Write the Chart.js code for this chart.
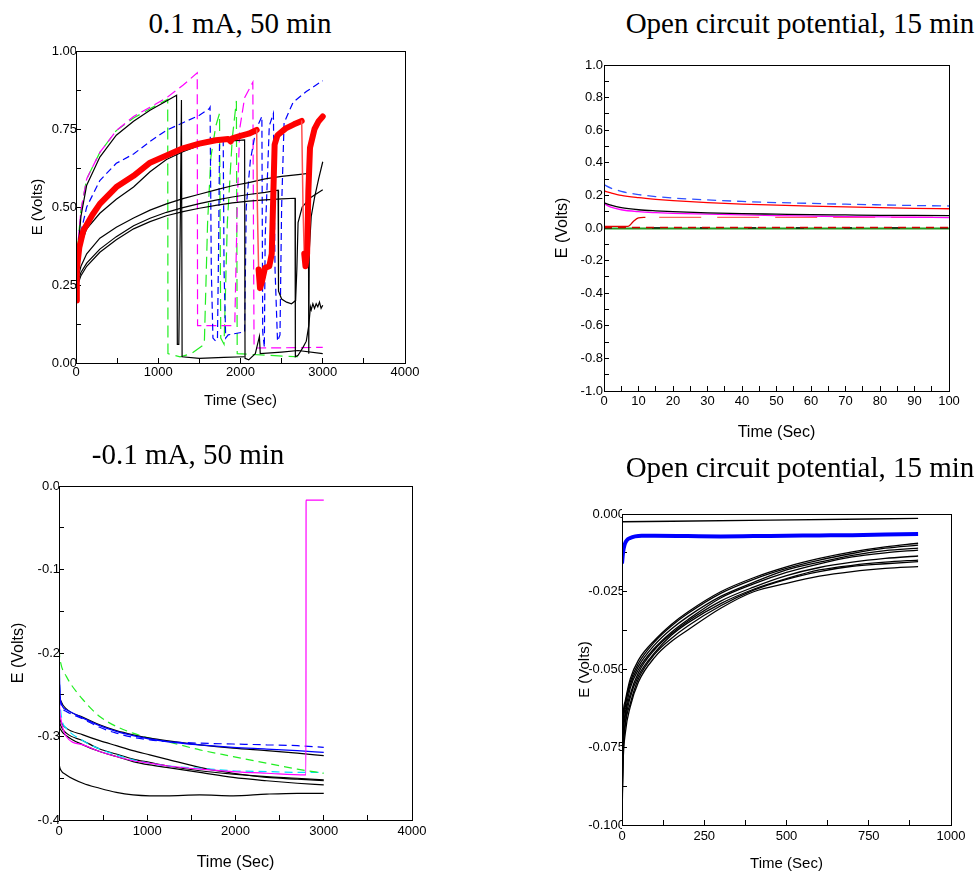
<!DOCTYPE html>
<html>
<head>
<meta charset="utf-8">
<script src="https://cdn.jsdelivr.net/npm/chart.js@4.4.1/dist/chart.umd.min.js"></script>
<style>
  html, body { margin: 0; padding: 0; background: #fff; }
  #page { position: relative; width: 979px; height: 873px; overflow: hidden; }
  canvas { position: absolute; }
  .ttl { position: absolute; font-family: 'Liberation Serif', 'Times New Roman', serif; font-size: 29px;
         line-height: 1; white-space: nowrap; transform: translateX(-50%); color: #000; }
</style>
</head>
<body>
<div id="page">
  <canvas id="c1" width="430" height="380" style="left:0;top:40px"></canvas>
  <canvas id="c2" width="459" height="410" style="left:520px;top:40px"></canvas>
  <canvas id="c3" width="440" height="433" style="left:0;top:440px"></canvas>
  <canvas id="c4" width="439" height="403" style="left:540px;top:470px"></canvas>
  <div class="ttl" style="left:240px;top:9px">0.1 mA, 50 min</div>
  <div class="ttl" style="left:800px;top:9px">Open circuit potential, 15 min</div>
  <div class="ttl" style="left:188px;top:440px">-0.1 mA, 50 min</div>
  <div class="ttl" style="left:800px;top:453px">Open circuit potential, 15 min</div>
</div>
<script>
// ---- panel 1: 0.1 mA, 50 min (time in s, E in V) ----
const p1RedT = [0,10,40,90,200,290,490,700,900,1100,1300,1500,1700,1850,1880,1900,2000,2100,2197,2205,2220,2237,2260,2298,2350,2380,2400,2415,2450,2550,2650,2744,2760,2775,2790,2810,2825,2845,2900,2950,3000];
const p1RedE = [0.2,0.3,0.37,0.425,0.475,0.51,0.564,0.60,0.642,0.665,0.688,0.703,0.714,0.718,0.71,0.72,0.728,0.735,0.747,0.5,0.3,0.24,0.26,0.305,0.31,0.35,0.55,0.70,0.73,0.752,0.765,0.776,0.5,0.35,0.31,0.35,0.55,0.69,0.75,0.775,0.79];
const p1K1T = [0,20,60,130,290,490,700,900,1100,1223,1232,1250,1270,1282,1290,1500,1800,2050];
const p1K1E = [0.22,0.35,0.47,0.57,0.66,0.73,0.775,0.81,0.84,0.858,0.06,0.06,0.5,0.843,0.02,0.015,0.018,0.02];
const p1K2T = [0,20,60,130,290,490,700,900,1100,1300,1500,1700,1900,2050,2055,2100,2180,2230,2240,2500,2700,3000];
const p1K2E = [0.24,0.31,0.38,0.43,0.48,0.525,0.564,0.613,0.652,0.677,0.697,0.71,0.712,0.715,0.015,0.01,0.03,0.085,0.03,0.035,0.04,0.03];
const p1K3T = [0,20,60,130,290,490,700,900,1100,1300,1500,1700,1900,2100,2300,2500,2700,2825,2830,2836,2860,2900,2950,3000];
const p1K3E = [0.23,0.27,0.31,0.35,0.40,0.435,0.465,0.49,0.51,0.527,0.541,0.555,0.568,0.578,0.59,0.598,0.604,0.608,0.03,0.36,0.47,0.53,0.59,0.645];
const p1K4T = [0,20,60,130,290,490,700,900,1100,1300,1500,1700,1900,2100,2300,2457,2462,2500,2560,2620,2670,2685,2700,2750,2850,3000];
const p1K4E = [0.22,0.26,0.29,0.32,0.365,0.405,0.44,0.464,0.483,0.498,0.511,0.522,0.532,0.54,0.547,0.554,0.23,0.205,0.195,0.19,0.2,0.3,0.45,0.5,0.53,0.555];
const p1K5T = [0,20,60,130,290,490,700,900,1100,1300,1500,1700,1900,2100,2300,2500,2663,2667,2700,2760,2800,2830,2850,2860,2880,2900,2920,2940,2960,2980,3000];
const p1K5E = [0.21,0.25,0.28,0.31,0.355,0.395,0.43,0.453,0.472,0.485,0.496,0.505,0.513,0.519,0.523,0.526,0.528,0.02,0.025,0.05,0.07,0.12,0.18,0.17,0.19,0.175,0.19,0.18,0.195,0.175,0.185];
const p1GreenT = [0,20,60,130,290,490,700,900,1115,1118,1265,1400,1560,1600,1640,1700,1745,1760,1800,1840,1900,1950,1960,2300,2700];
const p1GreenE = [0.25,0.37,0.49,0.59,0.675,0.745,0.785,0.815,0.845,0.03,0.02,0.03,0.06,0.45,0.66,0.76,0.8,0.08,0.06,0.45,0.72,0.84,0.03,0.025,0.02];
const p1MagT = [0,20,60,130,290,490,700,900,1100,1300,1474,1478,1600,1900,1931,1960,1990,2050,2150,2160,2165,2200,3000];
const p1MagE = [0.25,0.37,0.49,0.59,0.675,0.745,0.79,0.82,0.85,0.89,0.93,0.12,0.12,0.12,0.13,0.5,0.75,0.85,0.9,0.3,0.05,0.048,0.05];
const p1BlueT = [0,20,60,130,290,490,700,900,1100,1300,1500,1620,1630,1645,1665,1700,1720,1735,1745,1790,1800,1820,1850,2050,2070,2120,2190,2260,2270,2290,2300,2350,2400,2420,2450,2480,2500,2530,2640,2800,3000];
const p1BlueE = [0.24,0.33,0.42,0.5,0.585,0.64,0.67,0.71,0.746,0.77,0.794,0.815,0.82,0.30,0.08,0.07,0.08,0.4,0.71,0.71,0.3,0.08,0.09,0.1,0.5,0.65,0.75,0.79,0.1,0.05,0.4,0.76,0.8,0.3,0.07,0.09,0.5,0.77,0.836,0.87,0.905];

// ---- panel 2: open circuit potential, first 100 s ----
const p2T = [0,2,5,10,15,20,30,40,50,60,70,80,90,100];
const p2Blue = [0.266,0.245,0.225,0.205,0.193,0.184,0.172,0.163,0.156,0.151,0.146,0.142,0.138,0.135];
const p2Red = [0.227,0.215,0.2,0.186,0.176,0.168,0.156,0.147,0.14,0.134,0.129,0.125,0.121,0.118];
const p2Black = [0.154,0.14,0.125,0.112,0.105,0.1,0.093,0.088,0.085,0.082,0.08,0.078,0.077,0.076];
const p2Mag = [0.15,0.128,0.112,0.1,0.094,0.09,0.085,0.08,0.076,0.073,0.07,0.068,0.066,0.064];
const p2StepT = [0,7,8.5,10,12];
const p2StepE = [0.01,0.01,0.04,0.062,0.065];
const p2DashT = [16,100];
const p2DashE = [0.065,0.065];
const p2ZeroT = [0,100];
const p2GreenE = [-0.003,-0.003];
const p2RedZeroE = [0.003,0.003];
const p2BlackZeroE = [0.001,0.001];

// ---- panel 3: -0.1 mA, 50 min ----
const p3T = [0,5,20,83,272,461,650,839,1028,1217,1595,1973,2352,2700,3000];
const p3Blue = [-0.15,-0.225,-0.258,-0.268,-0.278,-0.287,-0.294,-0.299,-0.303,-0.306,-0.310,-0.313,-0.315,-0.317,-0.319];
const p3BlueDash = [-0.16,-0.23,-0.26,-0.27,-0.279,-0.289,-0.296,-0.301,-0.304,-0.306,-0.308,-0.309,-0.310,-0.311,-0.313];
const p3K1 = [-0.17,-0.24,-0.257,-0.267,-0.277,-0.286,-0.293,-0.298,-0.302,-0.305,-0.310,-0.314,-0.317,-0.320,-0.323];
const p3Green = [-0.18,-0.2,-0.212,-0.228,-0.256,-0.276,-0.288,-0.296,-0.302,-0.306,-0.316,-0.324,-0.332,-0.339,-0.344];
const p3Cyan = [-0.19,-0.235,-0.27,-0.29,-0.305,-0.315,-0.322,-0.328,-0.332,-0.335,-0.338,-0.341,-0.342,-0.343,-0.343];
const p3K2 = [-0.265,-0.275,-0.282,-0.29,-0.298,-0.305,-0.311,-0.317,-0.322,-0.327,-0.337,-0.344,-0.349,-0.351,-0.353];
const p3K3 = [-0.27,-0.28,-0.287,-0.296,-0.305,-0.315,-0.321,-0.327,-0.331,-0.335,-0.341,-0.345,-0.348,-0.350,-0.352];
const p3K4 = [-0.28,-0.287,-0.292,-0.299,-0.31,-0.318,-0.324,-0.33,-0.334,-0.337,-0.343,-0.349,-0.353,-0.356,-0.358];
const p3K5 = [-0.33,-0.335,-0.34,-0.346,-0.356,-0.362,-0.367,-0.37,-0.371,-0.371,-0.37,-0.371,-0.369,-0.368,-0.368];
const p3MagT = [0,5,20,83,272,461,650,839,1028,1217,1595,1973,2352,2798,2800,3000];
const p3MagE = [-0.2,-0.255,-0.278,-0.3,-0.31,-0.318,-0.324,-0.329,-0.332,-0.335,-0.339,-0.342,-0.344,-0.346,-0.0168,-0.0168];

// ---- panel 4: open circuit potential, 15 min ----
const p4T = [0,3,10,25,50,100,150,200,300,400,500,600,700,800,900];
const p4Curves = [
  [-0.082,-0.066,-0.060,-0.053,-0.047,-0.0405,-0.0355,-0.0315,-0.025,-0.0205,-0.017,-0.0143,-0.0122,-0.0106,-0.0094],
  [-0.088,-0.068,-0.061,-0.054,-0.048,-0.041,-0.036,-0.032,-0.0255,-0.021,-0.0175,-0.0148,-0.0127,-0.0110,-0.0100],
  [-0.085,-0.070,-0.062,-0.055,-0.049,-0.042,-0.037,-0.033,-0.0265,-0.022,-0.018,-0.0155,-0.0133,-0.0118,-0.0110],
  [-0.090,-0.072,-0.064,-0.056,-0.050,-0.043,-0.038,-0.034,-0.027,-0.0225,-0.0188,-0.016,-0.0138,-0.0125,-0.0116],
  [-0.093,-0.074,-0.065,-0.058,-0.051,-0.0435,-0.0385,-0.0345,-0.028,-0.0235,-0.0198,-0.0172,-0.0155,-0.0143,-0.0135],
  [-0.095,-0.077,-0.067,-0.059,-0.052,-0.0445,-0.039,-0.035,-0.0288,-0.0242,-0.0208,-0.018,-0.0165,-0.0155,-0.0148],
  [-0.097,-0.079,-0.068,-0.061,-0.053,-0.045,-0.040,-0.036,-0.0295,-0.0245,-0.021,-0.0185,-0.0168,-0.0160,-0.0153],
  [-0.099,-0.081,-0.0705,-0.062,-0.054,-0.046,-0.041,-0.0373,-0.0303,-0.025,-0.0223,-0.020,-0.0185,-0.0175,-0.0169]
];
const p4TopT = [0,450,900];
const p4TopE = [-0.0025,-0.002,-0.0014];
const p4BlueT = [0,3,8,15,25,40,60,100,200,300,400,500,600,700,800,900];
const p4BlueE = [-0.0159,-0.0125,-0.0098,-0.0084,-0.0077,-0.0072,-0.0070,-0.0070,-0.0071,-0.0072,-0.0071,-0.0070,-0.0069,-0.0068,-0.0066,-0.0064];

const SANS = "'Liberation Sans', Arial, sans-serif";

function line(t, e, color, width, dash, extra) {
  return Object.assign({
    data: t.map((x, i) => ({ x: x, y: e[i] })),
    borderColor: color,
    borderWidth: width,
    borderDash: dash || [],
    pointRadius: 0,
    fill: false
  }, extra || {});
}

// closed box round the plot area
const frame = {
  id: 'frame',
  afterDatasetsDraw(chart) {
    const { ctx, chartArea: a } = chart;
    ctx.save();
    ctx.strokeStyle = '#000';
    ctx.lineWidth = 1;
    ctx.strokeRect(Math.round(a.left) + 0.5, Math.round(a.top) + 0.5, Math.round(a.right - a.left), Math.round(a.bottom - a.top));
    ctx.restore();
  }
};

function majorLabel(major, dec) {
  return v => {
    const r = v / major;
    return Math.abs(r - Math.round(r)) < 1e-6 ? (Math.round(r) * major).toFixed(dec) : '';
  };
}

function panel(id, o) {
  return new Chart(document.getElementById(id), {
    type: 'line',
    data: { datasets: o.datasets },
    plugins: [frame],
    options: {
      responsive: false,
      animation: false,
      layout: { padding: { top: o.pad[0], right: o.pad[1], left: 0, bottom: 0 } },
      plugins: { legend: { display: false }, tooltip: { enabled: false } },
      elements: { line: { tension: 0, cubicInterpolationMode: o.smooth ? 'monotone' : 'default' } },
      scales: {
        x: {
          type: 'linear', min: o.x[0], max: o.x[1],
          grid: { drawOnChartArea: false, tickLength: -5, color: '#000' },
          border: { display: false },
          ticks: { stepSize: o.x[2], autoSkip: false, maxRotation: 0, padding: o.tickPad[0], color: '#000',
                   font: { family: SANS, size: 13 }, callback: majorLabel(o.x[3], 0) },
          title: { display: true, text: 'Time (Sec)', color: '#000', font: { family: SANS, size: o.titleSize },
                   padding: { top: 0, bottom: o.titlePad[0] } },
          afterFit: s => { s.height = o.xh; s.paddingLeft = 0; s.paddingRight = 0; }
        },
        y: {
          type: 'linear', min: o.y[0], max: o.y[1],
          grid: { drawOnChartArea: false, tickLength: -5, color: '#000' },
          border: { display: false },
          ticks: { stepSize: o.y[2], autoSkip: false, padding: o.tickPad[1], color: '#000',
                   font: { family: SANS, size: 13 }, callback: majorLabel(o.y[3], o.y[4]) },
          title: { display: true, text: 'E (Volts)', color: '#000', font: { family: SANS, size: o.titleSize },
                   padding: { top: o.titlePad[1], bottom: 0 } },
          afterFit: s => { s.width = o.yw; s.paddingTop = 0; s.paddingBottom = 0; }
        }
      }
    }
  });
}

// red trace: drops are drawn as a thin line, the sampled parts as a fat band
const redSeg = {
  borderWidth: c => (c.p1.parsed.y - c.p0.parsed.y < -0.1 ? 1.5 : 6),
  borderColor: c => (c.p1.parsed.y - c.p0.parsed.y < -0.1 ? '#ff5050' : '#ff0000')
};

panel('c1', {
  x: [0, 4000, 500, 1000], y: [0, 1, 0.125, 0.25, 2],
  yw: 76, xh: 57, pad: [11, 25], tickPad: [7, 4], titlePad: [10, 29], titleSize: 15,
  datasets: [
    line(p1RedT, p1RedE, '#ff0000', 6, null, { segment: redSeg, borderJoinStyle: 'round', borderCapStyle: 'round' }),
    line(p1K1T, p1K1E, '#000', 1.2),
    line(p1K2T, p1K2E, '#000', 1.2),
    line(p1K3T, p1K3E, '#000', 1.2),
    line(p1K4T, p1K4E, '#000', 1.2),
    line(p1K5T, p1K5E, '#000', 1.2),
    line(p1BlueT, p1BlueE, '#0000ff', 1.2, [7, 4]),
    line(p1MagT, p1MagE, '#ff00ff', 1.2, [10, 5]),
    line(p1GreenT, p1GreenE, '#22ee22', 1.2, [12, 6])
  ]
});

panel('c2', {
  x: [0, 100, 5, 10], y: [-1, 1, 0.1, 0.2, 1],
  yw: 84, xh: 59, pad: [25, 30], tickPad: [8, 6], titlePad: [8, 33], titleSize: 16, smooth: true,
  datasets: [
    line(p2T, p2Blue, '#3050ff', 1.3, [9, 6]),
    line(p2T, p2Red, '#ff0000', 1.3),
    line(p2T, p2Black, '#000', 1.3),
    line(p2T, p2Mag, '#ff00ff', 1.3),
    line(p2StepT, p2StepE, '#e00000', 1.3),
    line(p2DashT, p2DashE, '#ff6060', 1.3, [42, 16]),
    line(p2ZeroT, p2RedZeroE, '#cc0000', 1.3, [8, 6]),
    line(p2ZeroT, p2BlackZeroE, '#000', 1.3, [8, 40]),
    line(p2ZeroT, p2GreenE, '#1f9a1f', 2)
  ]
});

panel('c3', {
  x: [0, 4000, 500, 1000], y: [-0.4, 0, 0.05, 0.1, 1],
  yw: 59, xh: 53, pad: [46, 28], tickPad: [9, 4], titlePad: [1, 9], titleSize: 16, smooth: true,
  datasets: [
    line(p3MagT, p3MagE, '#ff00ff', 1.2),
    line(p3T, p3Blue, '#0000ff', 1.3),
    line(p3T, p3BlueDash, '#0000ff', 1.2, [8, 5]),
    line(p3T, p3K1, '#000', 1.2),
    line(p3T, p3Green, '#22ee22', 1.2, [8, 5]),
    line(p3T, p3Cyan, '#00e0ff', 1.2, [8, 5]),
    line(p3T, p3K2, '#000', 1.2),
    line(p3T, p3K3, '#000', 1.2),
    line(p3T, p3K4, '#000', 1.2),
    line(p3T, p3K5, '#000', 1.2)
  ]
});

panel('c4', {
  x: [0, 1000, 125, 250], y: [-0.1, 0, 0.0125, 0.025, 3],
  yw: 82, xh: 48, pad: [44, 28], tickPad: [9, 2], titlePad: [0, 36], titleSize: 15, smooth: true,
  datasets: [
    line(p4BlueT, p4BlueE, '#0000ff', 4),
    line(p4TopT, p4TopE, '#000', 1.3)
  ].concat(p4Curves.map(c => line(p4T, c, '#000', 1.3)))
});
</script>
</body>
</html>
